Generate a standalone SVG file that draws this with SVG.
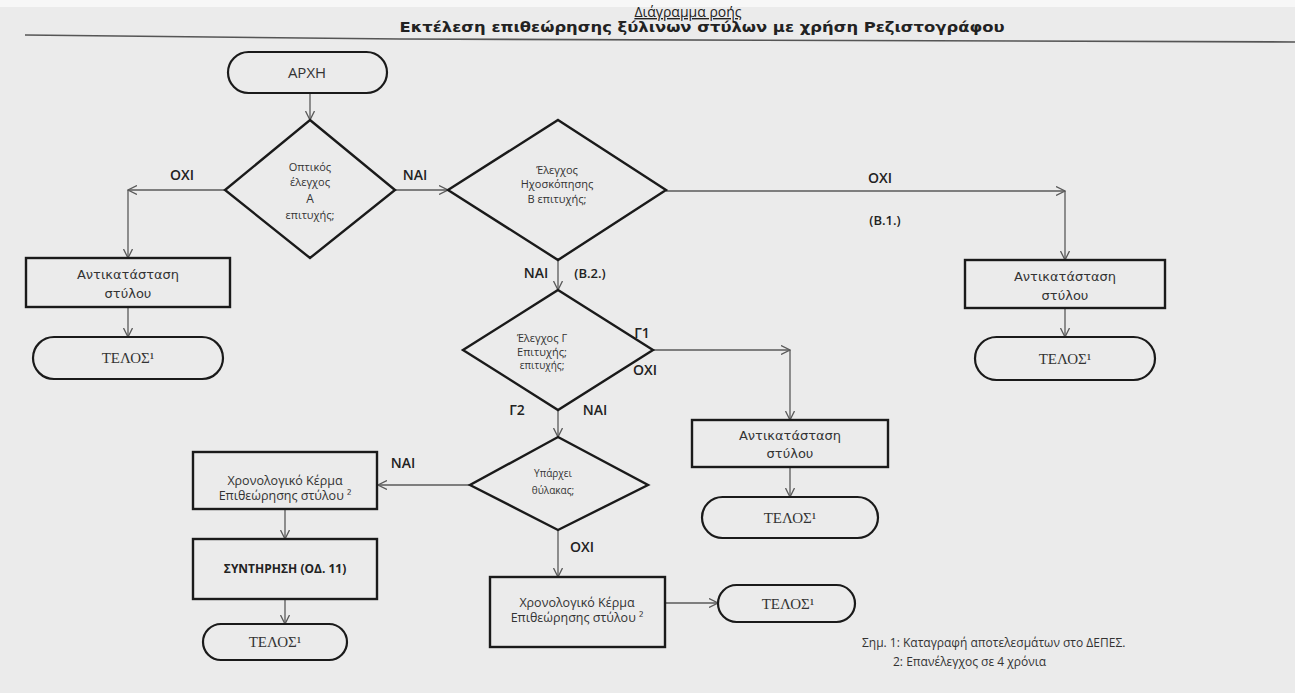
<svg xmlns="http://www.w3.org/2000/svg" width="1295" height="693" viewBox="0 0 1295 693">
<style>
.bg{fill:#ebebeb}
.node{fill:none;stroke:#1a1a1a;stroke-width:2.4}
.term{fill:none;stroke:#1a1a1a;stroke-width:2.2}
.con{fill:none;stroke:#5a5a5a;stroke-width:1.3}
.t{font-family:"Open Sans","Noto Sans",sans-serif;fill:#333;text-anchor:middle}
.dt{font-size:11px}
.bx{font-family:"DejaVu Sans",sans-serif;font-size:13px;fill:#333;text-anchor:middle}
.sf{font-family:"Liberation Serif",serif;font-size:15px;fill:#333;text-anchor:middle}
.lb{font-family:"Open Sans",sans-serif;font-size:14px;font-weight:600;fill:#222;text-anchor:middle}
.lb2{font-family:"Open Sans",sans-serif;font-size:13px;font-weight:600;fill:#222;text-anchor:middle}
.nt{font-family:"Open Sans",sans-serif;font-size:12px;fill:#333}
</style>
<defs>
<marker id="ar" viewBox="0 0 10 10" refX="9" refY="5" markerWidth="10" markerHeight="10" markerUnits="userSpaceOnUse" orient="auto">
<path d="M0,0.5 L9,5 L0,9.5" fill="none" stroke="#5a5a5a" stroke-width="1.3"/>
</marker>
</defs>
<rect class="bg" x="0" y="0" width="1295" height="693"/>
<rect x="0" y="0" width="1295" height="7" fill="#f7f7f7"/>
<path d="M25,35 L400,39 L1295,42" fill="none" stroke="#555" stroke-width="1.6"/>

<g id="title">
<text x="688" y="17" class="t" style="font-size:14px;text-decoration:underline;fill:#222">Διάγραμμα ροής</text>
<text x="702" y="32" class="t" style="font-family:'DejaVu Sans',sans-serif;font-size:14px;font-weight:bold;fill:#222" textLength="605" lengthAdjust="spacingAndGlyphs">Εκτέλεση επιθεώρησης ξύλινων στύλων με χρήση Ρεζιστογράφου</text>
</g>

<g id="connectors">
<path class="con" d="M310,93 V120" marker-end="url(#ar)"/>
<path class="con" d="M225,190 H128" marker-end="url(#ar)"/>
<path class="con" d="M128,190 V258" marker-end="url(#ar)"/>
<path class="con" d="M128,307 V337" marker-end="url(#ar)"/>
<path class="con" d="M395,190 H448" marker-end="url(#ar)"/>
<path class="con" d="M666,191 H1065" marker-end="url(#ar)"/>
<path class="con" d="M1065,191 V260" marker-end="url(#ar)"/>
<path class="con" d="M1065,308 V337" marker-end="url(#ar)"/>
<path class="con" d="M558,260 V290" marker-end="url(#ar)"/>
<path class="con" d="M653,350 H790" marker-end="url(#ar)"/>
<path class="con" d="M790,350 V420" marker-end="url(#ar)"/>
<path class="con" d="M790,467 V497" marker-end="url(#ar)"/>
<path class="con" d="M558,410 V437" marker-end="url(#ar)"/>
<path class="con" d="M470,485 H378" marker-end="url(#ar)"/>
<path class="con" d="M285,509 V539" marker-end="url(#ar)"/>
<path class="con" d="M285,599 V624" marker-end="url(#ar)"/>
<path class="con" d="M558,530 V577" marker-end="url(#ar)"/>
<path class="con" d="M665,603 H718" marker-end="url(#ar)"/>
</g>

<g id="labels">
<text class="lb" x="182" y="180">ΟΧΙ</text>
<text class="lb" x="415" y="180">ΝΑΙ</text>
<text class="lb" x="880" y="183">ΟΧΙ</text>
<text class="lb2" x="885" y="225">(Β.1.)</text>
<text class="lb" x="536" y="278">ΝΑΙ</text>
<text class="lb2" x="590" y="278">(Β.2.)</text>
<text class="lb" x="642" y="338">Γ1</text>
<text class="lb" x="645" y="375">ΟΧΙ</text>
<text class="lb" x="517" y="415">Γ2</text>
<text class="lb" x="595" y="415">ΝΑΙ</text>
<text class="lb" x="403" y="468">ΝΑΙ</text>
<text class="lb" x="582" y="552">ΟΧΙ</text>
</g>

<g id="start">
<rect class="term" x="228" y="52" width="159" height="41" rx="20.5"/>
<text class="t" x="307" y="78" style="font-size:15px">ΑΡΧΗ</text>
</g>

<g id="decisionA">
<polygon class="node" points="310,120 395,190 310,258 225,190"/>
<text class="t dt" x="310" y="171">Οπτικός</text>
<text class="t dt" x="310" y="186">έλεγχος</text>
<text class="t" x="310" y="203" style="font-size:12px">Α</text>
<text class="t dt" x="310" y="219">επιτυχής;</text>
</g>

<g id="replaceA">
<rect class="node" x="26" y="258" width="204" height="49"/>
<text class="bx" x="128" y="279">Αντικατάσταση</text>
<text class="bx" x="128" y="298">στύλου</text>
</g>

<g id="endA">
<rect class="term" x="33" y="337" width="190" height="42" rx="21"/>
<text class="sf" x="128" y="363">ΤΕΛΟΣ¹</text>
</g>

<g id="decisionB">
<polygon class="node" points="558,120 666,190 558,260 448,190"/>
<text class="t dt" x="557" y="174">Έλεγχος</text>
<text class="t dt" x="557" y="188">Ηχοσκόπησης</text>
<text class="t dt" x="557" y="203">Β επιτυχής;</text>
</g>

<g id="replaceB">
<rect class="node" x="965" y="260" width="200" height="48"/>
<text class="bx" x="1065" y="281">Αντικατάσταση</text>
<text class="bx" x="1065" y="300">στύλου</text>
</g>

<g id="endB">
<rect class="term" x="975" y="337" width="180" height="43" rx="21.5"/>
<text class="sf" x="1065" y="364">ΤΕΛΟΣ¹</text>
</g>

<g id="decisionG">
<polygon class="node" points="558,290 653,350 558,410 463,350"/>
<text class="t dt" x="542" y="342">Έλεγχος Γ</text>
<text class="t dt" x="542" y="356">Επιτυχής;</text>
<text class="t" x="542" y="369" style="font-size:10px">επιτυχής;</text>
</g>

<g id="replaceG">
<rect class="node" x="692" y="420" width="196" height="47"/>
<text class="bx" x="790" y="440">Αντικατάσταση</text>
<text class="bx" x="790" y="458">στύλου</text>
</g>

<g id="endG">
<rect class="term" x="702" y="497" width="176" height="41" rx="20.5"/>
<text class="sf" x="790" y="523">ΤΕΛΟΣ¹</text>
</g>

<g id="decisionY">
<polygon class="node" points="558,437 648,485 558,530 470,485"/>
<text class="t" x="553" y="477" style="font-size:10px">Υπάρχει</text>
<text class="t" x="553" y="494" style="font-size:10px">θύλακας;</text>
</g>

<g id="coinYes">
<rect class="node" x="193" y="452" width="184" height="57"/>
<text class="t" x="285" y="485" style="font-size:12.5px">Χρονολογικό Κέρμα</text>
<text class="t" x="285" y="500" style="font-size:12.5px">Επιθεώρησης στύλου ²</text>
</g>

<g id="maintenance">
<rect class="node" x="193" y="539" width="184" height="60"/>
<text class="t" x="285" y="573" style="font-size:12px;font-weight:bold;fill:#222">ΣΥΝΤΗΡΗΣΗ (ΟΔ. 11)</text>
</g>

<g id="endYes">
<rect class="term" x="203" y="624" width="144" height="36" rx="18"/>
<text class="sf" x="275" y="647">ΤΕΛΟΣ¹</text>
</g>

<g id="coinNo">
<rect class="node" x="490" y="577" width="175" height="70"/>
<text class="t" x="577" y="607" style="font-size:12.5px">Χρονολογικό Κέρμα</text>
<text class="t" x="577" y="622" style="font-size:12.5px">Επιθεώρησης στύλου ²</text>
</g>

<g id="endNo">
<rect class="term" x="718" y="585" width="137" height="37" rx="18.5"/>
<text class="sf" x="788" y="609">ΤΕΛΟΣ¹</text>
</g>

<g id="note">
<text class="nt" x="862" y="647">Σημ. 1: Καταγραφή αποτελεσμάτων στο ΔΕΠΕΣ.</text>
<text class="nt" x="893" y="666">2: Επανέλεγχος σε 4 χρόνια</text>
</g>
</svg>
